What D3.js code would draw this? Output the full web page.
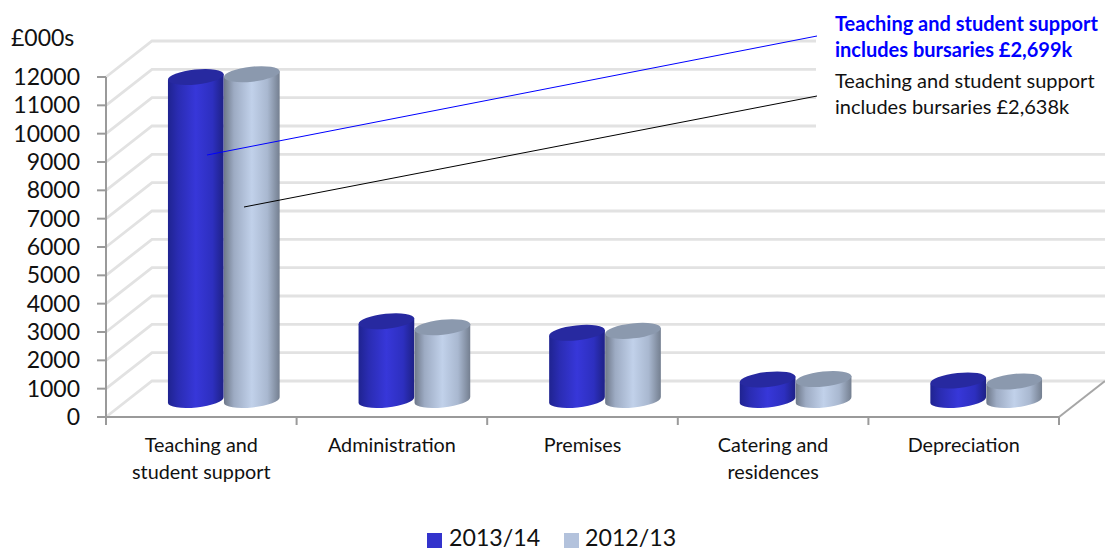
<!DOCTYPE html>
<html>
<head>
<meta charset="utf-8">
<script src="https://cdn.jsdelivr.net/npm/d3@7/dist/d3.min.js"></script>
<style>
html,body{margin:0;padding:0;background:#fff;}
svg{display:block;}
text{font-family:Lato,"Open Sans",sans-serif;fill:#111;}
</style>
</head>
<body>
<svg id="chart" width="1105" height="549"></svg>
<script>
// Expenditure by category, £000s
const categories = [["Teaching and","student support"],["Administration"],["Premises"],["Catering and","residences"],["Depreciation"]];
const seriesNames = ["2013/14","2012/13"];
const values2013 = [11400,2780,2370,725,690];
const values2012 = [11500,2570,2440,740,655];
const yTicks = d3.range(0,12001,1000);

const svg = d3.select("#chart");
const left=106, right=1059, base=417, top_=77;
const depthX=46, depthY=-36;      // floor depth of the 3D box
const barDX=22.5, barDY=-17;      // cylinders stand part way back on the floor
const rx=28, ry=7.5, tilt=6;      // elliptical cap shape

const y = d3.scaleLinear().domain([0,12000]).range([base,top_]);
const x0 = d3.scaleBand().domain(d3.range(categories.length)).range([left,right]);
const x1 = d3.scaleBand().domain([0,1]).range([x0.bandwidth()/2-2*rx,x0.bandwidth()/2+2*rx]).padding(0);

// Gradients
const defs = svg.append("defs");
function grad(id,stops){
  const g=defs.append("linearGradient").attr("id",id);
  stops.forEach(([o,c])=>g.append("stop").attr("offset",o).attr("stop-color",c));
}
grad("g0",[[0,"#1f2390"],[.18,"#2a2cb2"],[.5,"#3737d9"],[.8,"#2d2fbf"],[1,"#1e2186"]]);
grad("g1",[[0,"#6e7889"],[.18,"#9dabc3"],[.5,"#c1d1ea"],[.78,"#a9b8d0"],[1,"#747f90"]]);
const capColor=["#2729a0","#8b99ae"];

// Back wall and floor gridlines
const grid = svg.append("g").attr("fill","none").attr("stroke","#e2e2e2").attr("stroke-width",2.8);
yTicks.forEach(t=>{
  grid.append("path").attr("d",`M${left},${y(t)}L${left+depthX},${y(t)+depthY}L1105,${y(t)+depthY}`);
});
// Floor's right edge
svg.append("path").attr("d",`M${right},${base}L${right+depthX},${base+depthY}`)
  .attr("fill","none").attr("stroke","#a6a6a6").attr("stroke-width",2);

// White panel behind the notes
svg.append("rect").attr("x",816).attr("y",0).attr("width",289).attr("height",142).attr("fill","#fff");

// Cylinders
const rad=tilt*Math.PI/180, ex=rx*Math.cos(rad), ey=rx*Math.sin(rad);
[values2013,values2012].forEach((vals,s)=>{
  const g=svg.append("g");
  vals.forEach((v,i)=>{
    const cx=x0(i)+x1(s)+x1.bandwidth()/2+barDX;
    const yB=y(0)+barDY, yT=y(v)+barDY;
    g.append("path").attr("fill",`url(#g${s})`)
      .attr("d",`M${cx-ex},${yT+ey}L${cx-ex},${yB+ey}A${rx},${ry} ${-tilt} 0 0 ${cx+ex},${yB-ey}L${cx+ex},${yT-ey}Z`);
    g.append("ellipse").attr("cx",cx).attr("cy",yT).attr("rx",rx).attr("ry",ry)
      .attr("transform",`rotate(${-tilt} ${cx} ${yT})`).attr("fill",capColor[s]);
  });
});

// Axes
const axis=svg.append("g").attr("stroke","#9a9a9a").attr("stroke-width",2).attr("fill","none");
axis.append("path").attr("d",`M${left},${top_}L${left},${base}L${right},${base}`);
yTicks.forEach(t=>axis.append("path").attr("d",`M${left-9},${y(t)}L${left},${y(t)}`));
d3.range(categories.length+1).forEach(i=>{
  const px=i<categories.length?x0(i):right;
  axis.append("path").attr("d",`M${px},${base}L${px},${base+8}`);
});

// Y tick labels
svg.append("g").selectAll("text").data(yTicks).join("text")
  .attr("x",80).attr("y",d=>y(d)+8).attr("text-anchor","end")
  .attr("font-size",23).text(d=>d);
svg.append("text").attr("x",11).attr("y",46).attr("font-size",23).text("£000s");

// Category labels
categories.forEach((lines,i)=>{
  lines.forEach((l,k)=>{
    svg.append("text").attr("x",x0(i)+x0.bandwidth()/2).attr("y",452+k*27)
      .attr("text-anchor","middle").attr("font-size",19.8).text(l);
  });
});

// Leader lines and notes
svg.append("line").attr("x1",207).attr("y1",155).attr("x2",817).attr("y2",36).attr("stroke","#0000ff").attr("stroke-width",1);
svg.append("line").attr("x1",244).attr("y1",207).attr("x2",817).attr("y2",96).attr("stroke","#000").attr("stroke-width",1);
const noteBlue=["Teaching and student support","includes bursaries £2,699k"];
const noteBlack=["Teaching and student support","includes bursaries £2,638k"];
noteBlue.forEach((t,k)=>svg.append("text").attr("x",835).attr("y",31+k*25.5).attr("font-size",20).attr("font-weight",700).style("fill","#0000ff").text(t));
noteBlack.forEach((t,k)=>svg.append("text").attr("x",835).attr("y",88+k*25.5).attr("font-size",20).text(t));

// Legend
const legendColor=["#3333cc","#b3c2dc"], swX=[427,564], txX=[449,585];
seriesNames.forEach((n,i)=>{
  svg.append("rect").attr("x",swX[i]).attr("y",533).attr("width",15).attr("height",15).attr("fill",legendColor[i]);
  svg.append("text").attr("x",txX[i]).attr("y",546).attr("font-size",23.2).text(n);
});
</script>
</body>
</html>
